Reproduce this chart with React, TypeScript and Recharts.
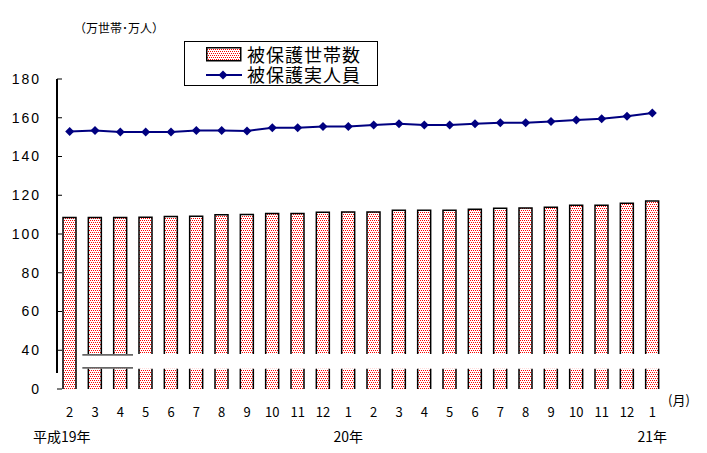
import React from 'react'
import { ComposedChart, Bar, Line, XAxis, YAxis, ReferenceArea, Legend } from 'recharts'

// 平成19年2月 〜 平成21年1月
const MONTHS = ['2', '3', '4', '5', '6', '7', '8', '9', '10', '11', '12', '1', '2', '3', '4', '5', '6', '7', '8', '9', '10', '11', '12', '1']
const YEARS = ['平成19年', '', '', '', '', '', '', '', '', '', '', '20年', '', '', '', '', '', '', '', '', '', '', '', '21年']

// 被保護世帯数（万世帯）
const HOUSEHOLDS = [108.5, 108.5, 108.5, 108.6, 109.0, 109.1, 110.0, 110.1, 110.6, 110.6, 111.2, 111.3, 111.4, 112.2, 112.3, 112.3, 112.8, 113.3, 113.4, 113.8, 114.8, 114.9, 115.9, 117.0]
// 被保護実人員（万人）
const PERSONS = [152.9, 153.4, 152.7, 152.7, 152.7, 153.4, 153.4, 153.2, 154.8, 154.8, 155.5, 155.5, 156.2, 156.9, 156.2, 156.2, 156.9, 157.4, 157.4, 158.1, 158.9, 159.5, 160.8, 162.4]

// axis is broken: the bottom of the scale (20) is labelled 0
const Y_FLOOR = 20
const Y_TICKS = [20, 40, 60, 80, 100, 120, 140, 160, 180]
const BREAK_LOW = 30.4
const BREAK_HIGH = 38.1
const BOUNDARIES = MONTHS.map((_, i) => i + 1)

const data = MONTHS.map((m, i) => ({
  key: `m${i}`,
  month: m,
  households: HOUSEHOLDS[i],
  persons: PERSONS[i],
}))

const FONT = '"Noto Sans CJK JP", "Liberation Sans", sans-serif'
const NAVY = '#000080'

const Diamond = (props: any) => {
  const { cx, cy } = props
  if (cx == null || cy == null) return null
  return <polygon points={`${cx},${cy - 4.5} ${cx + 4.5},${cy} ${cx},${cy + 4.5} ${cx - 4.5},${cy}`} fill={NAVY} />
}

const DotPattern = ({ id }: { id: string }) => (
  <pattern id={id} width={4} height={4} patternUnits="userSpaceOnUse">
    <rect width={4} height={4} fill="#fff" />
    <rect x={0} y={0} width={1} height={1} fill="#ff0000" />
    <rect x={2} y={0} width={1} height={1} fill="#ff0000" />
    <rect x={1} y={2} width={1} height={1} fill="#ff0000" />
    <rect x={3} y={2} width={1} height={1} fill="#ff0000" />
  </pattern>
)

// bar drawn with a gap where the value axis is broken (first bar is left whole)
const BrokenBar = (props: any) => {
  const { x, y, width, height, index, payload } = props
  if (!height || height <= 0) return null
  const base = y + height
  const perUnit = height / (payload.households - Y_FLOOR)
  const toY = (v: number) => base - (v - Y_FLOOR) * perUnit
  const right = x + width
  if (index === 0) {
    return (
      <g>
        <rect x={x} y={y} width={width} height={height} fill="url(#bar-dots)" />
        <path d={`M${x},${base} V${y} H${right} V${base}`} fill="none" stroke="#000" strokeWidth={1.5} />
      </g>
    )
  }
  const gapTop = toY(BREAK_HIGH)
  const gapBottom = toY(BREAK_LOW)
  return (
    <g>
      <rect x={x} y={y} width={width} height={gapTop - y} fill="url(#bar-dots)" />
      <rect x={x} y={gapBottom} width={width} height={base - gapBottom} fill="url(#bar-dots)" />
      <path
        d={`M${x},${gapTop} V${y} H${right} V${gapTop} M${x},${base} V${gapBottom} M${right},${base} V${gapBottom}`}
        fill="none"
        stroke="#000"
        strokeWidth={1.5}
      />
    </g>
  )
}

const MonthTick = (props: any) => {
  const { x, y, payload } = props
  const i = payload.index
  return (
    <g>
      <text x={x} y={y + 22} textAnchor="middle" fontSize={13} fontFamily={FONT} fill="#000">
        {MONTHS[i]}
      </text>
      {YEARS[i] && (
        <text x={x + (i === 0 ? -8 : 0)} y={y + 47} textAnchor="middle" fontSize={14} fontFamily={FONT} fill="#000">
          {YEARS[i]}
        </text>
      )}
    </g>
  )
}

const LegendBox = () => (
  <div style={{ position: 'relative', width: 194, height: 45, boxSizing: 'border-box', border: '1px solid #000', background: '#fff', fontFamily: FONT, fontSize: 18, letterSpacing: 1, color: '#000' }}>
    <svg width={36} height={15} style={{ position: 'absolute', left: 21, top: 5 }}>
      <defs><DotPattern id="legend-dots" /></defs>
      <rect x={0.75} y={0.75} width={34} height={13} fill="url(#legend-dots)" stroke="#000" strokeWidth={1.5} />
    </svg>
    <span style={{ position: 'absolute', left: 62, top: 3, lineHeight: '18px', whiteSpace: 'nowrap' }}>被保護世帯数</span>
    <svg width={36} height={12} style={{ position: 'absolute', left: 21, top: 27 }}>
      <line x1={0} y1={6} x2={36} y2={6} stroke={NAVY} strokeWidth={2} />
      <polygon points="17,1.5 21.5,6 17,10.5 12.5,6" fill={NAVY} />
    </svg>
    <span style={{ position: 'absolute', left: 62, top: 23, lineHeight: '18px', whiteSpace: 'nowrap' }}>被保護実人員</span>
  </div>
)

export default function App() {
  return (
    <div style={{ position: 'absolute', left: 0, top: 0, background: '#fff' }}>
      <ComposedChart width={707} height={453} data={data} margin={{ top: 79, right: 42, bottom: 42, left: 0 }}>
        <defs><DotPattern id="bar-dots" /></defs>
        <XAxis
          xAxisId="bounds"
          type="number"
          domain={[0, MONTHS.length]}
          ticks={BOUNDARIES}
          allowDataOverflow
          height={0}
          tick={false}
          tickSize={-5}
          stroke="#000"
          axisLine={{ strokeWidth: 2 }}
          tickLine={{ strokeWidth: 1 }}
        />
        <XAxis
          dataKey="key"
          height={22}
          interval={0}
          axisLine={false}
          tickLine={false}
          tickMargin={0}
          tick={<MonthTick />}
          label={{
            content: (p: any) => {
              const vb = p.viewBox || {}
              return (
                <text x={vb.x + vb.width + 3} y={vb.y + 16} fontSize={13} fontFamily={FONT} fill="#000">
                  (月)
                </text>
              )
            },
          }}
        />
        <YAxis
          type="number"
          domain={[Y_FLOOR, 180]}
          ticks={Y_TICKS}
          allowDataOverflow
          width={57}
          interval={0}
          tickSize={-5}
          tickMargin={21}
          tickFormatter={(v: number) => (v === Y_FLOOR ? '0' : String(v))}
          tick={{ fontSize: 14, fontFamily: '"Liberation Sans", Arial, sans-serif', fill: '#000', letterSpacing: 2 }}
          stroke="#000"
          axisLine={{ strokeWidth: 2, strokeDasharray: '294 40' }}
          tickLine={{ strokeWidth: 1 }}
          label={{
            content: (p: any) => {
              const vb = p.viewBox || {}
              return (
                <text x={vb.x + 74} y={vb.y - 46} fontSize={12} fontFamily={FONT} fill="#000">
                  （万世帯･万人）
                </text>
              )
            },
          }}
        />
        <Legend layout="vertical" align="center" verticalAlign="middle" content={<LegendBox />} wrapperStyle={{ left: 184, top: 41, width: 194, height: 45 }} />
        {/* break marks beside the broken bars */}
        <ReferenceArea x1="m1" x2="m2" y1={37.1} y2={38.1} fill="#666" fillOpacity={1} stroke="none" />
        <ReferenceArea x1="m1" x2="m2" y1={30.4} y2={31.4} fill="#666" fillOpacity={1} stroke="none" />
        <Bar dataKey="households" name="被保護世帯数" barSize={13} shape={<BrokenBar />} isAnimationActive={false} />
        <Line dataKey="persons" name="被保護実人員" stroke={NAVY} strokeWidth={2} dot={<Diamond />} activeDot={false} isAnimationActive={false} />
      </ComposedChart>
    </div>
  )
}
